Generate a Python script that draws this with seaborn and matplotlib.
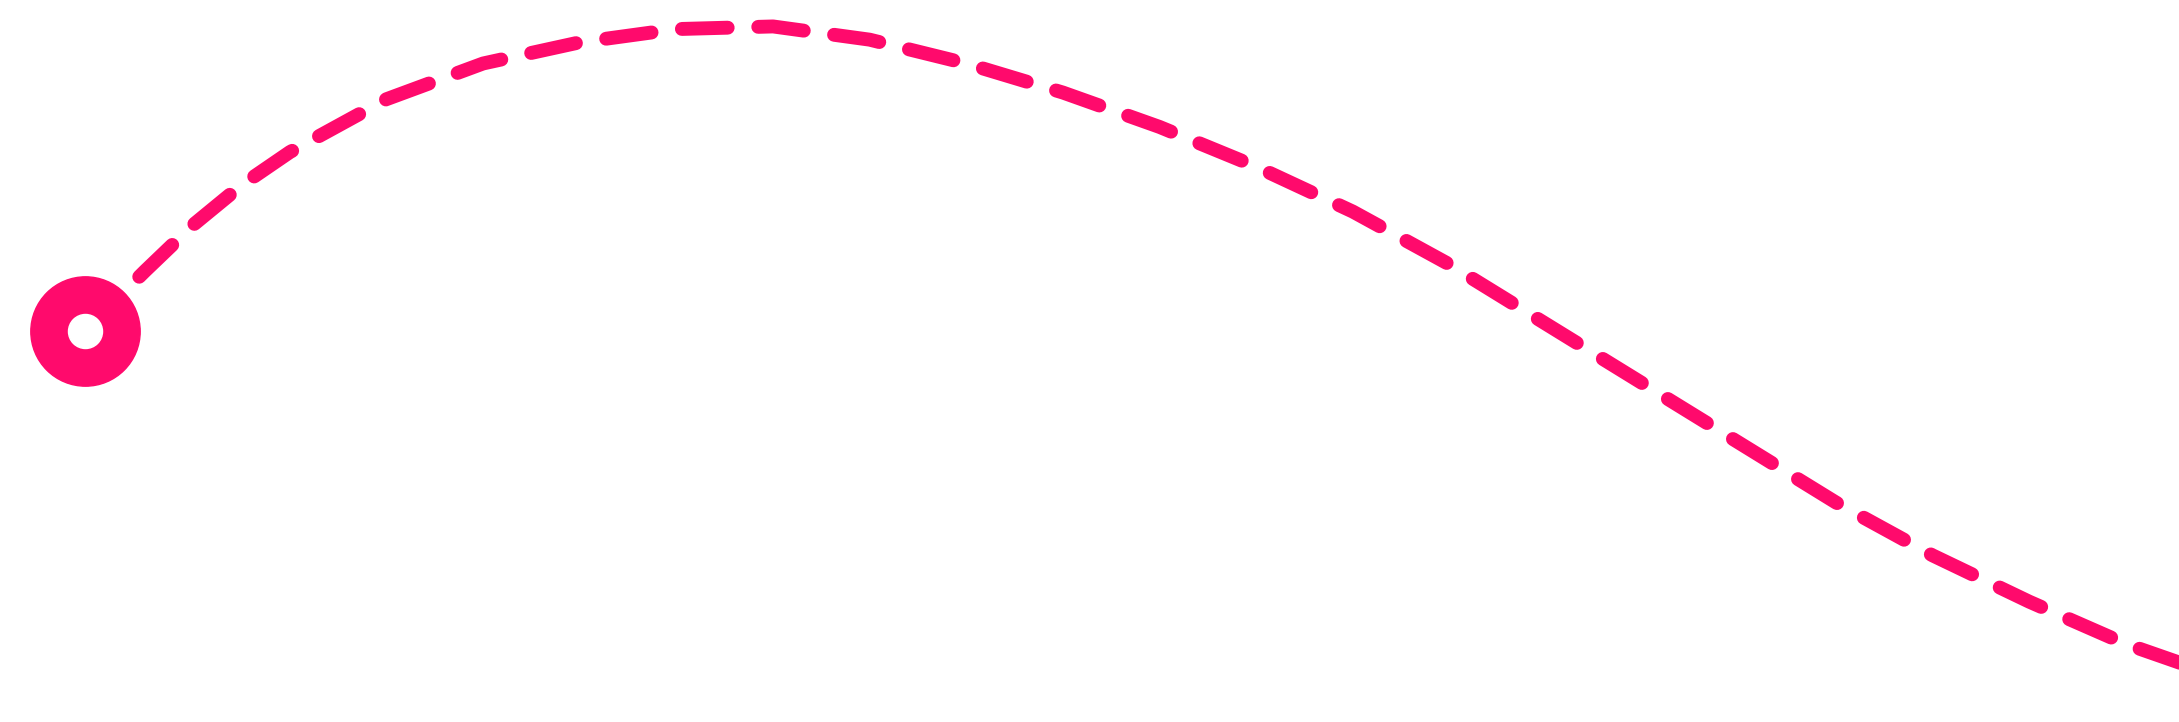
import matplotlib
matplotlib.use('Agg')
import matplotlib.pyplot as plt
import seaborn as sb
import pandas as pd

# path points, pixel-like coordinates (y grows downward)
path_x = [88, 150, 200, 250, 300, 400, 500, 600, 700, 800, 900, 1000,
          1100, 1200, 1300, 1400, 1500, 1600, 1700, 1800, 1900, 2000, 2100, 2200, 2310]
path_y = [250, 205, 170, 140, 115, 75, 48, 32, 22, 20, 30, 48,
          70, 96, 126, 160, 200, 245, 290, 335, 380, 420, 455, 487, 515]
start_x = [88]
start_y = [250]

df = pd.DataFrame({'x': path_x, 'y': path_y})
pink = '#ff0a6c'

fig = plt.figure(figsize=(21.79, 7.22), dpi=100)
ax = fig.add_axes([0, 0, 1, 1])
sb.lineplot(data=df, x='x', y='y', ax=ax, color=pink, lw=10,
            linestyle=(0, (3.3, 2.2)), dash_capstyle='round', sort=False)
ax.scatter(start_x, start_y, s=6200, color=pink, zorder=3)
ax.scatter(start_x, start_y, s=600, color='white', zorder=4)
ax.set_xlim(0, 2255)
ax.set_ylim(546, 0)
ax.axis('off')
fig.savefig('out.png', dpi=100, facecolor='white')
